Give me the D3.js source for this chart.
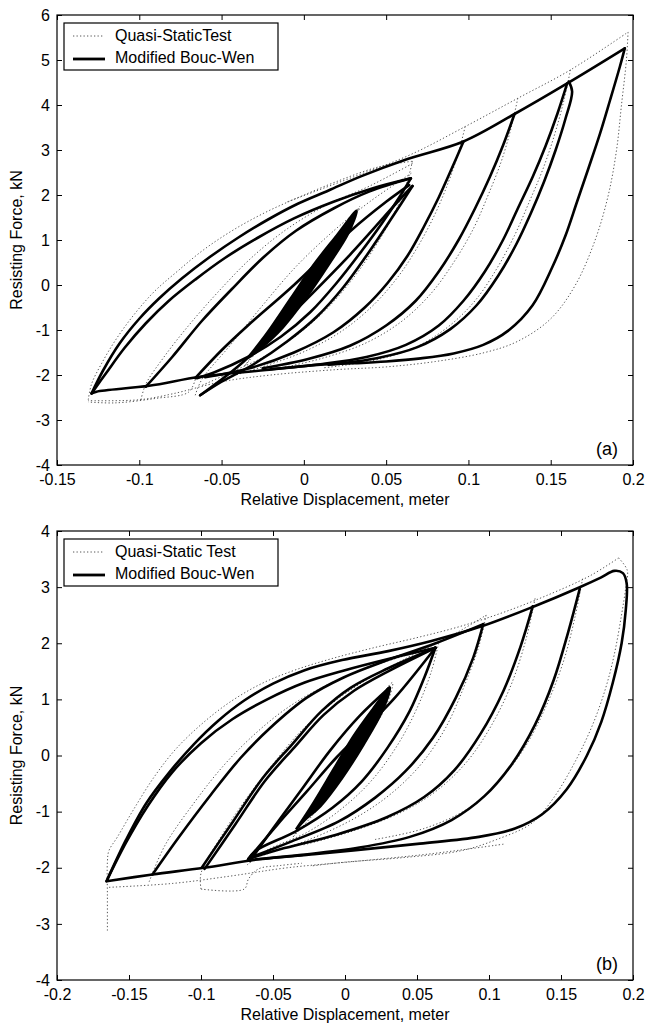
<!DOCTYPE html>
<html>
<head>
<meta charset="utf-8">
<script src="https://cdn.jsdelivr.net/npm/d3@7"></script>
<style>
  body { margin: 0; background: #fff; }
  svg { font-family: "Liberation Sans", Arial, sans-serif; }
</style>
</head>
<body>
<script>
// ---------------- panel (a) data ----------------
var xTicksA = [-0.15, -0.1, -0.05, 0, 0.05, 0.1, 0.15, 0.2];
var yTicksA = [-4, -3, -2, -1, 0, 1, 2, 3, 4, 5, 6];

// model (thick) branches, [displacement m, force kN]
var aUpper = [[-0.129,-2.41],[-0.122,-1.9],[-0.112,-1.3],[-0.100,-0.75],[-0.088,-0.3],[-0.074,0.15],[-0.058,0.6],[-0.040,1.05],[-0.022,1.45],[-0.004,1.8],[0.015,2.1],[0.035,2.42],[0.063,2.8],[0.097,3.19],[0.128,3.8],[0.160,4.48],[0.195,5.26]];
var aUpper2 = [[-0.129,-2.41],[-0.120,-1.95],[-0.109,-1.4],[-0.096,-0.85],[-0.082,-0.35],[-0.066,0.12],[-0.048,0.6],[-0.028,1.05],[-0.006,1.48],[0.018,1.85],[0.042,2.15],[0.065,2.37]];
var aLower = [[0.195,5.26],[0.192,4.85],[0.186,4.1],[0.180,3.37],[0.173,2.6],[0.166,1.85],[0.159,1.1],[0.151,0.4],[0.139,-0.45],[0.124,-1.02],[0.109,-1.33],[0.091,-1.52],[0.071,-1.63],[0.05,-1.70],[0.03,-1.74],[0.01,-1.77],[-0.023,-1.89],[-0.063,-2.04],[-0.094,-2.24],[-0.126,-2.37],[-0.129,-2.41]];
var aDown160a = [[0.160,4.48],[0.154,3.8],[0.147,3.1],[0.139,2.4],[0.130,1.7],[0.121,1.0],[0.110,0.3],[0.097,-0.35],[0.082,-0.9],[0.062,-1.33],[0.038,-1.6],[0.010,-1.76],[-0.020,-1.87]];
var aDown160b = [[0.161,4.52],[0.163,4.3],[0.159,3.7],[0.153,3.0],[0.146,2.3],[0.138,1.6],[0.129,0.9],[0.118,0.2],[0.105,-0.45],[0.089,-0.98],[0.069,-1.38],[0.045,-1.62],[0.015,-1.77]];
var aDown128 = [[0.128,3.8],[0.121,3.1],[0.113,2.4],[0.104,1.7],[0.094,1.0],[0.082,0.3],[0.068,-0.35],[0.050,-0.9],[0.028,-1.35],[0.002,-1.65],[-0.025,-1.85]];
var aDown097 = [[0.097,3.19],[0.090,2.6],[0.082,1.95],[0.073,1.3],[0.063,0.65],[0.051,0.05],[0.037,-0.5],[0.018,-1.05],[-0.006,-1.5],[-0.033,-1.85],[-0.060,-2.05]];
var aDown065a = [[0.065,2.37],[0.058,1.95],[0.048,1.4],[0.035,0.75],[0.020,0.05],[0.004,-0.6],[-0.014,-1.15],[-0.034,-1.6],[-0.055,-1.95],[-0.065,-2.07]];
var aDown065b = [[0.066,2.2],[0.059,1.8],[0.050,1.3],[0.038,0.65],[0.024,-0.05],[0.008,-0.7],[-0.01,-1.25],[-0.03,-1.75],[-0.05,-2.15],[-0.063,-2.45]];
var aUp097 = [[-0.096,-2.26],[-0.080,-1.6],[-0.062,-0.8],[-0.044,-0.1],[-0.025,0.6],[-0.005,1.2],[0.018,1.7],[0.040,2.08],[0.065,2.37]];
var aUp065 = [[-0.066,-2.07],[-0.050,-1.45],[-0.034,-0.9],[-0.006,0.0],[0.028,1.19],[0.050,1.85],[0.064,2.22]];
var aUp063 = [[-0.063,-2.45],[-0.039,-1.78],[-0.008,-0.67],[0.028,0.67],[0.057,1.85],[0.066,2.2]];
var aWedge = [[-0.034,-1.62],[-0.022,-1.05],[-0.008,-0.3],[0.006,0.45],[0.020,1.1],[0.032,1.65],[0.027,1.15],[0.015,0.45],[0.001,-0.3],[-0.013,-0.95],[-0.026,-1.4],[-0.034,-1.62]];

// quasi-static test (dotted) branches
var tUpperA = [[-0.131,-2.55],[-0.129,-2.2],[-0.123,-1.75],[-0.114,-1.2],[-0.103,-0.65],[-0.091,-0.15],[-0.077,0.3],[-0.061,0.78],[-0.043,1.22],[-0.023,1.62],[-0.003,1.95],[0.02,2.3],[0.045,2.62],[0.066,2.75]];
var tTopA = [[-0.01,1.85],[0.03,2.4],[0.065,2.9],[0.098,3.52],[0.130,4.15],[0.162,4.78],[0.197,5.62]];
var tLowerA = [[0.197,5.62],[0.196,5.0],[0.193,4.0],[0.190,3.0],[0.185,2.0],[0.177,1.0],[0.165,0.0],[0.150,-0.75],[0.130,-1.25],[0.110,-1.5],[0.080,-1.7],[0.050,-1.82],[0.020,-1.88],[-0.020,-2.0],[-0.050,-2.15],[-0.080,-2.42],[-0.100,-2.55],[-0.131,-2.57]];
var tDown160 = [[0.162,4.78],[0.158,4.1],[0.152,3.3],[0.145,2.55],[0.137,1.85],[0.128,1.1],[0.117,0.35],[0.104,-0.35],[0.088,-0.92],[0.068,-1.38],[0.042,-1.68],[0.012,-1.84]];
var tDown128 = [[0.130,4.15],[0.126,3.5],[0.120,2.75],[0.112,2.0],[0.103,1.25],[0.091,0.5],[0.077,-0.2],[0.059,-0.82],[0.037,-1.3],[0.011,-1.63],[-0.016,-1.86]];
var tDown097 = [[0.098,3.52],[0.094,2.95],[0.088,2.3],[0.080,1.6],[0.070,0.9],[0.058,0.22],[0.043,-0.42],[0.024,-1.0],[0.002,-1.45],[-0.022,-1.78],[-0.046,-2.05]];
var tDown065 = [[0.066,2.75],[0.062,2.2],[0.055,1.6],[0.045,0.95],[0.032,0.25],[0.016,-0.45],[-0.002,-1.05],[-0.022,-1.55],[-0.045,-1.95],[-0.063,-2.25]];
var tUp097 = [[-0.099,-2.55],[-0.096,-2.2],[-0.085,-1.6],[-0.070,-0.9],[-0.052,-0.15],[-0.032,0.6],[-0.010,1.25],[0.015,1.8],[0.040,2.2],[0.066,2.7]];
var tUp065 = [[-0.066,-2.45],[-0.062,-2.1],[-0.045,-1.35],[-0.025,-0.45],[-0.005,0.4],[0.018,1.2],[0.040,1.85],[0.066,2.5]];
var tWedgeA = [[-0.036,-1.8],[-0.020,-1.0],[-0.002,-0.1],[0.015,0.7],[0.034,1.75],[0.022,0.95],[0.004,0.0],[-0.014,-0.85],[-0.036,-1.8]];
var tBottomA = [[-0.066,-2.1],[-0.070,-2.38],[-0.090,-2.52],[-0.115,-2.62],[-0.131,-2.6]];

// ---------------- panel (b) data ----------------
var xTicksB = [-0.2, -0.15, -0.1, -0.05, 0, 0.05, 0.1, 0.15, 0.2];
var yTicksB = [-4, -3, -2, -1, 0, 1, 2, 3, 4];

var bOuter = [[-0.1656,-2.24],[-0.152,-1.5],[-0.138,-0.85],[-0.122,-0.3],[-0.105,0.2],[-0.088,0.62],[-0.070,0.98],[-0.050,1.28],[-0.028,1.52],[-0.002,1.7],[0.030,1.86],[0.060,2.04],[0.0959,2.31],[0.1316,2.66],[0.1622,2.99],[0.1776,3.17],[0.1870,3.29],[0.1930,3.25],[0.1956,3.07],[0.1950,2.6],[0.1921,2.0],[0.1860,1.3],[0.1780,0.6],[0.1680,0.0],[0.1540,-0.6],[0.1367,-1.05],[0.1180,-1.3],[0.0930,-1.45],[0.0520,-1.57],[0.0058,-1.69],[-0.0214,-1.76],[-0.0597,-1.85],[-0.098,-2.0],[-0.1337,-2.12],[-0.1656,-2.24]];
var bOuter2 = [[-0.1656,-2.24],[-0.152,-1.55],[-0.137,-0.9],[-0.120,-0.3],[-0.100,0.22],[-0.078,0.65],[-0.054,1.0],[-0.028,1.3],[0.0,1.52],[0.030,1.72],[0.063,1.92]];
var bDown163 = [[0.163,2.97],[0.155,2.2],[0.145,1.35],[0.132,0.55],[0.116,-0.15],[0.097,-0.72],[0.074,-1.15],[0.045,-1.45],[0.010,-1.64],[-0.030,-1.77],[-0.066,-1.86]];
var bDown130 = [[0.1304,2.66],[0.122,1.95],[0.110,1.15],[0.094,0.38],[0.076,-0.26],[0.055,-0.74],[0.029,-1.1],[-0.006,-1.41],[-0.042,-1.65],[-0.067,-1.84]];
var bDown096 = [[0.096,2.34],[0.089,1.74],[0.077,1.03],[0.061,0.31],[0.042,-0.28],[0.021,-0.75],[-0.004,-1.17],[-0.037,-1.53],[-0.064,-1.8]];
var bDown063 = [[0.0628,1.92],[0.0551,1.39],[0.0449,0.79],[0.0296,0.14],[0.0117,-0.46],[-0.0087,-0.93],[-0.0342,-1.35],[-0.0622,-1.70],[-0.0673,-1.85]];
var bUp134 = [[-0.1337,-2.12],[-0.1158,-1.47],[-0.0929,-0.69],[-0.0724,-0.04],[-0.052,0.49],[-0.0265,1.03],[-0.001,1.39],[0.0296,1.7],[0.063,2.0],[0.096,2.34]];
var bUp100 = [[-0.0995,-2.0],[-0.0776,-1.17],[-0.0571,-0.40],[-0.0367,0.20],[-0.0163,0.79],[0.0041,1.21],[0.0296,1.55],[0.0628,1.92]];
var bUp100b = [[-0.0975,-2.02],[-0.076,-1.22],[-0.0555,-0.45],[-0.035,0.15],[-0.015,0.72],[0.006,1.15],[0.030,1.5],[0.0628,1.92]];
var bUp067 = [[-0.0673,-1.85],[-0.0469,-1.23],[-0.0265,-0.64],[-0.0061,-0.04],[0.0143,0.49],[0.0347,1.03],[0.0628,1.92]];
var bUp067b = [[-0.066,-1.88],[-0.050,-1.3],[-0.030,-0.6],[-0.010,0.1],[0.010,0.7],[0.031,1.21]];
var bWedge = [[-0.034,-1.32],[-0.022,-0.85],[-0.008,-0.25],[0.006,0.35],[0.020,0.85],[0.031,1.21],[0.026,0.8],[0.013,0.2],[-0.002,-0.4],[-0.017,-0.9],[-0.028,-1.15],[-0.034,-1.32]];

var tOuterB = [[-0.165,-3.12],[-0.165,-2.5],[-0.165,-1.9],[-0.164,-1.7],[-0.158,-1.45],[-0.147,-0.97],[-0.133,-0.4],[-0.118,0.1],[-0.100,0.55],[-0.080,0.95],[-0.058,1.28],[-0.035,1.52],[-0.010,1.72],[0.020,1.92],[0.050,2.1],[0.080,2.3],[0.110,2.55],[0.140,2.85],[0.170,3.2],[0.190,3.52]];
var tRightB = [[0.190,3.52],[0.196,3.3],[0.195,3.0],[0.192,2.5],[0.187,1.8],[0.181,1.2],[0.172,0.55],[0.160,-0.1],[0.145,-0.75],[0.130,-1.2],[0.105,-1.5],[0.080,-1.7],[0.040,-1.82],[0.000,-1.9],[-0.024,-1.97]];
var tBottomB = [[0.110,-1.58],[0.060,-1.75],[0.010,-1.88],[-0.040,-2.0],[-0.080,-2.15],[-0.120,-2.28],[-0.165,-2.35]];
var tDown163 = [[0.165,3.15],[0.160,2.5],[0.152,1.7],[0.140,0.9],[0.125,0.15],[0.107,-0.45],[0.085,-0.95],[0.055,-1.3],[0.020,-1.5]];
var tDown130 = [[0.132,2.8],[0.126,2.1],[0.116,1.3],[0.102,0.55],[0.085,-0.1],[0.064,-0.62],[0.040,-1.0],[0.005,-1.35],[-0.030,-1.6]];
var tDown096 = [[0.098,2.5],[0.093,1.95],[0.083,1.25],[0.070,0.5],[0.053,-0.15],[0.032,-0.68],[0.008,-1.1],[-0.025,-1.5],[-0.060,-1.8]];
var tDown063 = [[0.065,2.0],[0.060,1.5],[0.051,0.9],[0.038,0.25],[0.020,-0.4],[0.000,-0.9],[-0.025,-1.35],[-0.055,-1.7],[-0.068,-1.95]];
var tUp100 = [[-0.100,-2.38],[-0.100,-2.1],[-0.085,-1.4],[-0.068,-0.75],[-0.050,-0.15],[-0.030,0.45],[-0.008,0.95],[0.015,1.35],[0.040,1.7],[0.063,2.0]];
var tUp134 = [[-0.136,-2.25],[-0.125,-1.6],[-0.105,-0.85],[-0.085,-0.2],[-0.064,0.35],[-0.040,0.85],[-0.013,1.25],[0.020,1.6],[0.060,1.95],[0.098,2.5]];
var tBoxB = [[-0.100,-2.38],[-0.070,-2.38],[-0.067,-2.2],[-0.060,-2.02],[-0.045,-1.96],[-0.030,-1.92]];
var tWedgeB = [[-0.036,-1.45],[-0.020,-0.8],[-0.004,-0.1],[0.012,0.55],[0.033,1.3],[0.028,0.85],[0.012,0.2],[-0.004,-0.45],[-0.022,-1.05],[-0.036,-1.45]];

// ---------------- drawing ----------------
var svgWidth = 647;
var svgHeight = 1027;
var left = 57, right = 633;

var svg = d3.select("body").append("svg")
  .attr("width", svgWidth)
  .attr("height", svgHeight);

svg.append("rect").attr("width", svgWidth).attr("height", svgHeight).attr("fill", "#fff");

function drawPanel(cfg) {
  var x = d3.scaleLinear().domain(cfg.xDomain).range([left, right]);
  var y = d3.scaleLinear().domain(cfg.yDomain).range([cfg.bottom, cfg.top]);
  var g = svg.append("g");

  var line = d3.line()
    .x(d => x(d[0]))
    .y(d => y(d[1]))
    .curve(d3.curveCatmullRom.alpha(0.5));

  // clip to plot area
  var clipId = "clip" + cfg.id;
  svg.append("clipPath").attr("id", clipId)
    .append("rect")
    .attr("x", left).attr("y", cfg.top)
    .attr("width", right - left).attr("height", cfg.bottom - cfg.top);

  var plot = g.append("g").attr("clip-path", `url(#${clipId})`);

  // test curves (dotted)
  plot.selectAll(".test")
    .data(cfg.test)
    .enter()
    .append("path")
    .attr("d", line)
    .attr("fill", "none")
    .attr("stroke", "#444")
    .attr("stroke-width", 0.9)
    .attr("stroke-dasharray", "1.3,2.2");

  // small-amplitude loops come out solid
  plot.selectAll(".wedge")
    .data(cfg.wedges)
    .enter()
    .append("path")
    .attr("d", line)
    .attr("fill", "#000")
    .attr("stroke", "#000")
    .attr("stroke-width", 2.6)
    .attr("stroke-linejoin", "round");

  // model curves (thick)
  plot.selectAll(".model")
    .data(cfg.model)
    .enter()
    .append("path")
    .attr("d", line)
    .attr("fill", "none")
    .attr("stroke", "#000")
    .attr("stroke-width", 2.6)
    .attr("stroke-linejoin", "round")
    .attr("stroke-linecap", "round");

  // axes, ticks pointing inward on all four sides
  var fmt = d => String(d);
  var bottomAxis = d3.axisBottom(x).tickValues(cfg.xTicks).tickSizeInner(-5).tickSizeOuter(0).tickPadding(9).tickFormat(fmt);
  var topAxis = d3.axisTop(x).tickValues(cfg.xTicks).tickSizeInner(-5).tickSizeOuter(0).tickFormat("");
  var leftAxis = d3.axisLeft(y).tickValues(cfg.yTicks).tickSizeInner(-5).tickSizeOuter(0).tickPadding(7).tickFormat(fmt);
  var rightAxis = d3.axisRight(y).tickValues(cfg.yTicks).tickSizeInner(-5).tickSizeOuter(0).tickFormat("");

  [[bottomAxis, `translate(0, ${cfg.bottom})`], [topAxis, `translate(0, ${cfg.top})`],
   [leftAxis, `translate(${left}, 0)`], [rightAxis, `translate(${right}, 0)`]].forEach(function (a) {
    g.append("g")
      .attr("transform", a[1])
      .call(a[0])
      .attr("font-size", 16)
      .attr("font-family", "Liberation Sans, Arial, sans-serif");
  });
  g.selectAll(".domain").remove();
  g.selectAll(".tick text").attr("fill", "#000");

  g.append("rect")
    .attr("x", left).attr("y", cfg.top)
    .attr("width", right - left).attr("height", cfg.bottom - cfg.top)
    .attr("fill", "none").attr("stroke", "#000").attr("stroke-width", 1.2);

  // axis titles
  g.append("text")
    .attr("x", (left + right) / 2)
    .attr("y", cfg.bottom + 40)
    .attr("text-anchor", "middle")
    .attr("font-size", "16px")
    .text("Relative Displacement, meter");

  g.append("text")
    .attr("transform", "rotate(-90)")
    .attr("x", -(cfg.top + cfg.bottom) / 2)
    .attr("y", 22)
    .attr("text-anchor", "middle")
    .attr("font-size", "16px")
    .text("Resisting Force, kN");

  // panel tag
  g.append("text")
    .attr("x", 618)
    .attr("y", cfg.bottom - 10)
    .attr("text-anchor", "end")
    .attr("font-size", "18px")
    .text(cfg.tag);

  // legend
  var lg = g.append("g").attr("transform", `translate(64, ${cfg.top + 8})`);
  lg.append("rect")
    .attr("width", 214).attr("height", 47)
    .attr("fill", "#fff").attr("stroke", "#000").attr("stroke-width", 1.2);
  lg.append("line")
    .attr("x1", 9).attr("x2", 40).attr("y1", 13).attr("y2", 13)
    .attr("stroke", "#444").attr("stroke-width", 0.9).attr("stroke-dasharray", "1.3,2.2");
  lg.append("text").attr("x", 51).attr("y", 18).attr("font-size", "16px").text(cfg.testLabel);
  lg.append("line")
    .attr("x1", 9).attr("x2", 41).attr("y1", 36).attr("y2", 36)
    .attr("stroke", "#000").attr("stroke-width", 2.8);
  lg.append("text").attr("x", 51).attr("y", 40).attr("font-size", "16px").text("Modified Bouc-Wen");
}

drawPanel({
  id: "A", tag: "(a)",
  top: 15, bottom: 465,
  xDomain: [-0.15, 0.2], yDomain: [-4, 6],
  xTicks: xTicksA, yTicks: yTicksA,
  testLabel: "Quasi-StaticTest",
  test: [tUpperA, tTopA, tLowerA, tDown160, tDown128, tDown097, tDown065, tUp097, tUp065, tWedgeA, tBottomA],
  wedges: [aWedge],
  model: [aUpper, aUpper2, aLower, aDown160a, aDown160b, aDown128, aDown097, aDown065a, aDown065b, aUp097, aUp065, aUp063]
});

drawPanel({
  id: "B", tag: "(b)",
  top: 531, bottom: 980,
  xDomain: [-0.2, 0.2], yDomain: [-4, 4],
  xTicks: xTicksB, yTicks: yTicksB,
  testLabel: "Quasi-Static Test",
  test: [tOuterB, tRightB, tBottomB, tDown163, tDown130, tDown096, tDown063, tUp100, tUp134, tBoxB, tWedgeB],
  wedges: [bWedge],
  model: [bOuter, bOuter2, bDown163, bDown130, bDown096, bDown063, bUp134, bUp100, bUp100b, bUp067, bUp067b]
});
</script>
</body>
</html>
